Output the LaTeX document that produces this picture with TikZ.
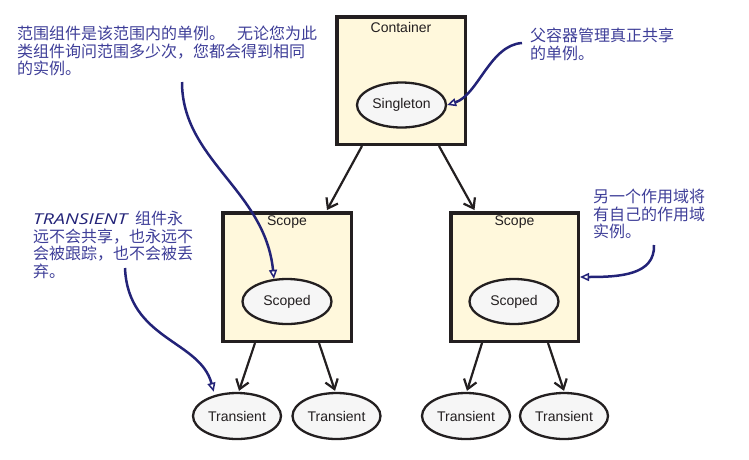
\documentclass[tikz,border=0pt]{standalone}
\usepackage{fontspec}
\setmainfont{Liberation Sans}
\newfontfamily\cjk{Noto Sans CJK SC}
\newfontfamily\comicfont[FakeStretch=1.3]{Open Sans}
\usetikzlibrary{arrows.meta,calc,shapes.geometric}
\definecolor{boxfill}{RGB}{255,248,220}
\definecolor{ellfill}{RGB}{246,246,246}
\definecolor{ink}{RGB}{35,31,32}
\definecolor{notetext}{RGB}{62,62,152}
\definecolor{notearrow}{RGB}{35,35,120}
\tikzset{
  box/.style={draw=ink, fill=boxfill, line width=3.5pt, minimum width=128.5pt, minimum height=128.5pt, inner sep=0pt},
  oval/.style={ellipse, draw=ink, fill=ellfill, line width=2.3pt, minimum width=89pt, minimum height=45pt, inner sep=0pt, text=ink, font=\fontsize{14}{16}\selectfont},
  lbl/.style={font=\fontsize{14}{16}\selectfont, text=ink, inner sep=0pt},
  flow/.style={draw=ink, line width=2.2pt, -{Straight Barb[length=9pt,width=13pt]}},
  note/.style={font=\cjk\fontsize{16}{17.5}\selectfont, text=notetext, align=left, anchor=north west, inner sep=0pt},
  callout/.style={draw=notearrow, line width=2.5pt, -{Triangle[open,length=9pt,width=8pt,line width=1.5pt,fill=white]}}
}
\begin{document}
\begin{tikzpicture}[x=1pt,y=-1pt]
\useasboundingbox (0,0) rectangle (749,459);
% boxes
\node[box, minimum height=127.5pt] (container) at (401,80.5) {};
\node[box] (scopeL) at (287,277) {};
\node[box, minimum width=127.5pt] (scopeR) at (514.5,277) {};
\node[lbl] (containerlbl) at (401,27) {Container};
\node[lbl] (scopeLlbl) at (287,222) {Scope};
\node[lbl] (scopeRlbl) at (514.5,222) {Scope};
% ellipses
\node[oval] (singleton) at (401.5,105) {Singleton};
\node[oval] (scopedL) at (287,301.5) {Scoped};
\node[oval] (scopedR) at (514,301.5) {Scoped};
\node[oval, minimum width=88pt, minimum height=46pt] (t1) at (237,416) {Transient};
\node[oval, minimum width=88pt, minimum height=46pt] (t2) at (336.5,416) {Transient};
\node[oval, minimum width=88pt, minimum height=46pt] (t3) at (466,416) {Transient};
\node[oval, minimum width=88pt, minimum height=46pt] (t4) at (564,416) {Transient};
% flow arrows
\draw[flow] ($(container.south)+(-39,0)$) -- ($(scopeL.north)+(40,-1)$);
\draw[flow] ($(container.south)+(38,0)$) -- ($(scopeR.north)+(-40,-1)$);
\draw[flow] ($(scopeL.south)+(-32,0)$) -- ($(t1.north)+(2,-1)$);
\draw[flow] ($(scopeL.south)+(32,0)$) -- ($(t2.north)+(-1.5,-1)$);
\draw[flow] ($(scopeR.south)+(-32.5,0)$) -- ($(t3.north)+(1,-1)$);
\draw[flow] ($(scopeR.south)+(33.5,0)$) -- ($(t4.north)+(0,-1)$);
% notes
\node[note] (n1) at (17,26) {范围组件是该范围内的单例。\hspace{12pt}无论您为此\\类组件询问范围多少次，您都会得到相同\\的实例。};
\node[note] (n2) at (530,28) {父容器管理真正共享\\的单例。};
\node[note] (n3) at (33,211) {\makebox[102pt][l]{\comicfont\itshape\fontsize{15}{17.5}\selectfont\color{notearrow}TRANSIENT}组件永\\远不会共享，也永远不\\会被跟踪，也不会被丢\\弃。};
\node[note] (n4) at (593,189) {另一个作用域将\\有自己的作用域\\实例。};
% callouts
\coordinate (c1) at (182,82);
\coordinate (c2) at (522,43);
\coordinate (c3) at (125,268);
\coordinate (c4) at (654,245);
\draw[callout] (c1) .. controls (182,160) and (265,190) .. (scopedL.120);
\draw[callout] (c2) .. controls (490,45) and (478,95) .. (singleton.east);
\draw[callout] (c3) .. controls (128,340) and (200,340) .. ($(t1.135)+(-2,-3)$);
\draw[callout] (c4) .. controls (655,275) and (620,277) .. (scopeR.east);
\end{tikzpicture}
\end{document}
